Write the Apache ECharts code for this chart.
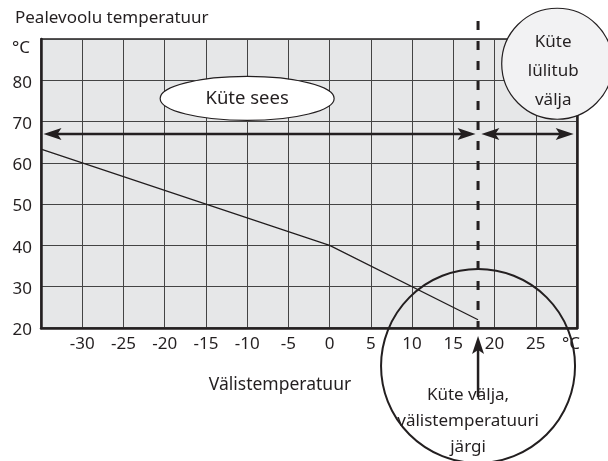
<!DOCTYPE html>
<html>
<head>
<meta charset="utf-8">
<script src="https://cdn.jsdelivr.net/npm/echarts@6/dist/echarts.min.js"></script>
<style>
html, body { margin: 0; padding: 0; background: #fff; }
#chart { width: 608px; height: 461px; }
</style>
</head>
<body>
<div id="chart"></div>
<script>
// heating curve: outdoor temp -> flow temp
var curveX = [-35, 0, 18];
var curveY = [63.3, 40, 22];

var xMin = -35, xMax = 30, xStep = 5;
var yMin = 20, yMax = 90, yStep = 10;

var switchOffTemp = 18;   // dashed line
var arrowLevel = 67;      // horizontal double arrows
var leftArrow = [-34.7, 17.7];
var rightArrow = [18.4, 29.6];

var ink = '#231f20';
var font = 'Noto Sans';

var chart = echarts.init(document.getElementById('chart'));

var option = {
    animation: false,
    title: {
        text: 'Pealevoolu temperatuur',
        left: 10,
        top: 5,
        textStyle: { fontFamily: font, fontSize: 17, fontWeight: 'normal', color: ink }
    },
    grid: {
        left: 41,
        right: 31,
        top: 39,
        bottom: 133,
        show: true,
        backgroundColor: '#e6e7e8',
        borderColor: ink,
        borderWidth: 1.5
    },
    xAxis: {
        type: 'value',
        min: xMin,
        max: xMax,
        interval: xStep,
        axisLine: { onZero: false, lineStyle: { color: ink, width: 2.5 } },
        axisTick: { show: false },
        splitLine: { lineStyle: { color: '#444', width: 1 } },
        axisLabel: {
            color: ink,
            fontFamily: font,
            fontSize: 17,
            margin: 8,
            showMinLabel: true,
            showMaxLabel: true,
            formatter: function (v) {
                if (v === xMin) return '';
                if (v === xMax) return '{u|°C}';
                return v;
            },
            rich: { u: { fontFamily: font, fontSize: 17, color: ink, padding: [0, 12, 0, 0] } }
        }
    },
    yAxis: [
        {
            type: 'value',
            min: yMin,
            max: yMax,
            interval: yStep,
            axisLine: { show: true, onZero: false, lineStyle: { color: ink, width: 2.5 } },
            axisTick: { show: false },
            splitLine: { lineStyle: { color: '#444', width: 1 } },
            axisLabel: {
                color: ink,
                fontFamily: font,
                fontSize: 17,
                margin: 9,
                padding: [5, 0, 0, 0],
                formatter: function (v) {
                    if (v === yMax) return '{u|°C}';
                    return v;
                },
                rich: { u: { fontFamily: font, fontSize: 17, color: ink, padding: [14, 2, 0, 0] } }
            }
        },
        {
            type: 'value',
            position: 'right',
            min: yMin,
            max: yMax,
            interval: yStep,
            axisLine: { show: true, onZero: false, lineStyle: { color: ink, width: 2.5 } },
            axisTick: { show: false },
            axisLabel: { show: false },
            splitLine: { show: false }
        }
    ],
    series: [
        {
            type: 'line',
            data: curveX.map(function (x, i) { return [x, curveY[i]]; }),
            showSymbol: false,
            lineStyle: { color: ink, width: 1.3 },
            z: 3
        }
    ]
};

chart.setOption(option);

function px(x, y) {
    return chart.convertToPixel({ gridIndex: 0 }, [x, y]);
}

// arrowhead polygon, tip at (tx,ty), pointing along (dx,dy)
function head(tx, ty, dx, dy, len, half) {
    var bx = tx - dx * len, by = ty - dy * len;
    var nx = -dy, ny = dx;
    var nb = 0.22 * len;
    return {
        type: 'polygon',
        z: 20,
        shape: { points: [
            [tx, ty],
            [bx + nx * half, by + ny * half],
            [tx - dx * (len - nb), ty - dy * (len - nb)],
            [bx - nx * half, by - ny * half]
        ] },
        style: { fill: ink }
    };
}

function hArrow(x0, x1, y) {
    var a = px(x0, y), b = px(x1, y);
    return [
        { type: 'line', z: 19, shape: { x1: a[0] + 8, y1: a[1], x2: b[0] - 8, y2: b[1] }, style: { stroke: ink, lineWidth: 2.5 } },
        head(a[0], a[1], -1, 0, 18, 6),
        head(b[0], b[1], 1, 0, 18, 6)
    ];
}

var dashTop = px(switchOffTemp, yMax);
var dashBot = px(switchOffTemp, yMin);
var ell = px(-10, 75.6);
var topCircle = px(27.6, 84);
var botCircle = px(switchOffTemp, 10.8);

var txt = function (x, y, s, size) {
    return {
        type: 'text', z: 30, x: x, y: y,
        style: { text: s, fill: ink, font: size + 'px "' + font + '"', align: 'center', verticalAlign: 'middle' }
    };
};

var graphics = [
    { type: 'line', z: 15, shape: { x1: dashTop[0], y1: dashTop[1] - 18, x2: dashBot[0], y2: dashBot[1] },
      style: { stroke: ink, lineWidth: 3, lineDash: [9, 11] } },
    { type: 'ellipse', z: 18, shape: { cx: ell[0], cy: ell[1], rx: 87, ry: 22 },
      style: { fill: '#fff', stroke: ink, lineWidth: 1.2 } },
    txt(ell[0], ell[1], 'Küte sees', 18.5),
    { type: 'circle', z: 25, shape: { cx: topCircle[0], cy: topCircle[1], r: 55.5 },
      style: { fill: '#f2f2f3', stroke: ink, lineWidth: 1.2 } },
    txt(topCircle[0] - 4, topCircle[1] - 22, 'Küte', 17),
    txt(topCircle[0] - 4, topCircle[1] + 7, 'lülitub', 17),
    txt(topCircle[0] - 4, topCircle[1] + 36, 'välja', 17),
    { type: 'circle', z: 22, shape: { cx: botCircle[0], cy: botCircle[1], r: 97 },
      style: { fill: 'none', stroke: ink, lineWidth: 2 } },
    txt(botCircle[0] - 10, botCircle[1] + 29, 'Küte välja,', 17),
    txt(botCircle[0] - 10, botCircle[1] + 55, 'välistemperatuuri', 17),
    txt(botCircle[0] - 10, botCircle[1] + 81, 'järgi', 17),
    { type: 'line', z: 35, shape: { x1: dashBot[0], y1: dashBot[1] + 20, x2: dashBot[0], y2: dashBot[1] + 69 },
      style: { stroke: ink, lineWidth: 2.5 } },
    head(dashBot[0], dashBot[1] + 8, 0, -1, 18, 6),
    txt(280, 385, 'Välistemperatuur', 17.5)
];
graphics = graphics.concat(hArrow(leftArrow[0], leftArrow[1], arrowLevel));
graphics = graphics.concat(hArrow(rightArrow[0], rightArrow[1], arrowLevel));

chart.setOption({ graphic: graphics });
</script>
</body>
</html>
